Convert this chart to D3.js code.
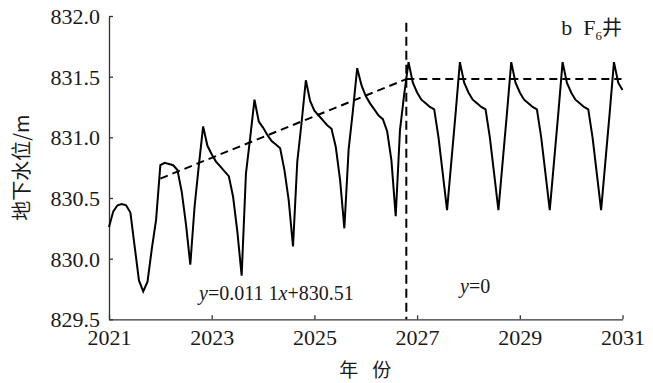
<!DOCTYPE html>
<html>
<head>
<meta charset="utf-8">
<script src="https://cdn.jsdelivr.net/npm/d3@7"></script>
<style>
  html, body { margin: 0; padding: 0; background: #fff; }
  svg { display: block; }
  text { font-family: "Liberation Serif", "Times New Roman", serif; fill: #1a1a1a; }
  .cjk { font-family: "Noto Sans CJK SC", "Noto Sans", sans-serif; }
</style>
</head>
<body>
<svg id="chart" width="653" height="383"></svg>
<script>
// ---- data ----
const startYear = 2021;               // first monthly sample = Jan 2021
const xTickYears = [2021, 2023, 2025, 2027, 2029, 2031];
const yTickValues = [829.5, 830.0, 830.5, 831.0, 831.5, 832.0];
// monthly groundwater level (m), Jan 2021 ... Jan 2031
const waterLevel = [
  830.26, 830.39, 830.44, 830.45, 830.44, 830.38, 830.10, 829.82, 829.73, 829.81, 830.08, 830.32,
  830.77, 830.79, 830.78, 830.77, 830.73, 830.55, 830.28, 829.95, 830.43, 830.77, 831.09, 830.93,
  830.86, 830.80, 830.76, 830.72, 830.68, 830.51, 830.22, 829.86, 830.70, 831.00, 831.31, 831.13,
  831.08, 831.02, 830.97, 830.94, 830.91, 830.73, 830.48, 830.10, 830.80, 831.12, 831.47, 831.30,
  831.22, 831.18, 831.14, 831.10, 831.07, 830.92, 830.65, 830.25, 830.90, 831.22, 831.57, 831.43,
  831.34, 831.28, 831.23, 831.18, 831.15, 831.05, 830.81, 830.35, 831.06, 831.36, 831.62, 831.45,
  831.37, 831.31, 831.28, 831.25, 831.23, 831.00, 830.70, 830.40, 830.80, 831.20, 831.62, 831.45,
  831.37, 831.31, 831.28, 831.25, 831.23, 831.00, 830.70, 830.40, 830.80, 831.20, 831.62, 831.45,
  831.37, 831.31, 831.28, 831.25, 831.23, 831.00, 830.70, 830.40, 830.80, 831.20, 831.62, 831.45,
  831.37, 831.31, 831.28, 831.25, 831.23, 831.00, 830.70, 830.40, 830.80, 831.20, 831.62, 831.45,
  831.39
];
// fitted trend lines (dashed)
const trendRiseX = [2022.0, 2026.79];
const trendRiseY = [830.66, 831.48];
const trendFlatX = [2026.79, 2030.98];
const trendFlatY = [831.48, 831.48];
const splitYear = 2026.79;
const splitTop = 831.945;
const labels = [
  { x: 2024.26, y: 829.66, parts: [["y", true], ["=0.011 1", false], ["x", true], ["+830.51", false]] },
  { x: 2028.13, y: 829.72, parts: [["y", true], ["=0", false]] }
];
const xTitleChars = ["年", "份"];

// ---- layout ----
const svg = d3.select("#chart");
const x = d3.scaleLinear().domain([2021, 2031]).range([109, 622.5]);
const y = d3.scaleLinear().domain([829.5, 832.0]).range([319.3, 16]);
const axisColor = "#333";

// axes
const gx = svg.append("g").attr("transform", `translate(0,${y(829.5)})`)
  .call(d3.axisBottom(x).tickValues(xTickYears).tickFormat(d3.format("d"))
        .tickSizeInner(-4).tickSizeOuter(0).tickPadding(10));
const gy = svg.append("g").attr("transform", `translate(${x(2021)},0)`)
  .call(d3.axisLeft(y).tickValues(yTickValues).tickFormat(d3.format(".1f"))
        .tickSizeInner(-4).tickSizeOuter(0).tickPadding(9));
[gx, gy].forEach(g => {
  g.select(".domain").attr("stroke", axisColor).attr("stroke-width", 1.3);
  g.selectAll(".tick line").attr("stroke", axisColor).attr("stroke-width", 1.3);
  g.selectAll(".tick text").attr("font-family", "Liberation Serif, Times New Roman, serif")
    .attr("font-size", 22).attr("fill", "#1a1a1a");
});
gx.selectAll(".tick text").attr("dy", "0.71em");
gy.selectAll(".tick text").attr("dy", "0.34em");

// series line
const line = d3.line()
  .x((d, i) => x(startYear + i / 12))
  .y(d => y(d));
svg.append("path").datum(waterLevel)
  .attr("fill", "none").attr("stroke", "#000").attr("stroke-width", 2)
  .attr("stroke-linejoin", "miter").attr("d", line);

// dashed trend lines
const seg = d3.line().x(d => x(d[0])).y(d => y(d[1]));
svg.append("path").datum(d3.zip(trendRiseX, trendRiseY))
  .attr("fill", "none").attr("stroke", "#000").attr("stroke-width", 2)
  .attr("stroke-dasharray", "8,5").attr("d", seg);
svg.append("path").datum(d3.zip(trendFlatX, trendFlatY))
  .attr("fill", "none").attr("stroke", "#000").attr("stroke-width", 2)
  .attr("stroke-dasharray", "8,5").attr("d", seg);
svg.append("path").datum([[splitYear, splitTop], [splitYear, 829.5]])
  .attr("fill", "none").attr("stroke", "#000").attr("stroke-width", 2)
  .attr("stroke-dasharray", "9,5").attr("d", seg);

// equation labels
labels.forEach(l => {
  const t = svg.append("text").attr("x", x(l.x)).attr("y", y(l.y))
    .attr("text-anchor", "middle").attr("font-size", 20);
  l.parts.forEach(p => {
    t.append("tspan").text(p[0]).attr("font-style", p[1] ? "italic" : "normal");
  });
});

// panel label "b  F6井"
const pl = svg.append("text").attr("x", 622).attr("y", 35)
  .attr("text-anchor", "end").attr("font-size", 22);
pl.append("tspan").text("b\u00a0\u00a0F");
pl.append("tspan").text("6").attr("font-size", 13).attr("dy", 5);
pl.append("tspan").text("井").attr("class", "cjk").attr("font-size", 20).attr("dy", -5);

// axis titles
svg.append("text").attr("class", "cjk")
  .attr("transform", `translate(29,${(y(829.5) + y(832)) / 2}) rotate(-90)`)
  .attr("text-anchor", "middle").attr("font-size", 20).attr("fill", "#222")
  .text("地下水位/m");
const xMid = (x(2021) + x(2031)) / 2;
xTitleChars.forEach((c, i) => {
  svg.append("text").attr("class", "cjk")
    .attr("x", xMid + (i === 0 ? -17 : 16)).attr("y", 377)
    .attr("text-anchor", "middle").attr("font-size", 19).attr("fill", "#222")
    .text(c);
});
</script>
</body>
</html>
